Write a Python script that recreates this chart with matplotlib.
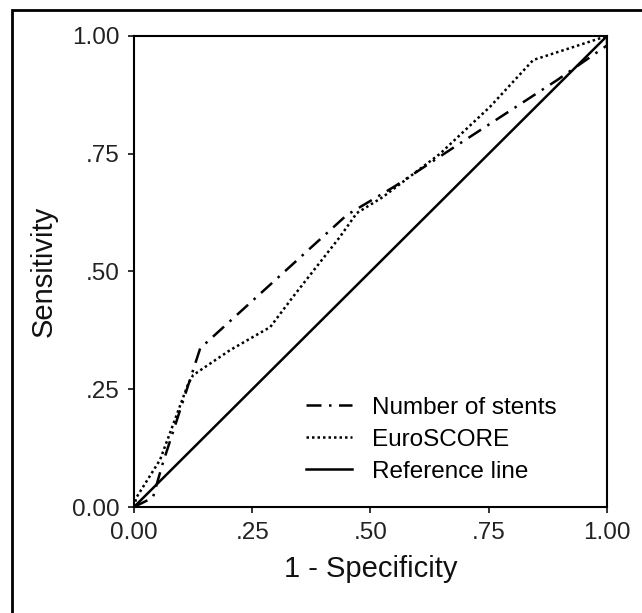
import matplotlib
matplotlib.use("Agg")
import matplotlib.pyplot as plt
from matplotlib.patches import Rectangle

plt.rcParams['font.family'] = ['Liberation Sans', 'DejaVu Sans']

# ROC curve points
stents_x = [0.0, 0.04, 0.06, 0.14, 0.45, 0.55, 0.683, 0.894, 1.0, 1.0]
stents_y = [0.0, 0.02, 0.09, 0.337, 0.62, 0.68, 0.768, 0.906, 0.98, 1.0]

euro_x = [0.0, 0.005, 0.055, 0.114, 0.125, 0.203, 0.288, 0.336, 0.435, 0.471, 0.526, 0.647, 0.753, 0.844, 0.93, 1.0]
euro_y = [0.0, 0.02, 0.10, 0.26, 0.28, 0.333, 0.382, 0.446, 0.573, 0.624, 0.658, 0.75, 0.85, 0.949, 0.977, 1.0]

ref_x = [0.0, 1.0]
ref_y = [0.0, 1.0]

ticks = [0.0, 0.25, 0.5, 0.75, 1.0]
tick_labels = ['0.00', '.25', '.50', '.75', '1.00']

fig = plt.figure(figsize=(6.42, 6.13), dpi=100)
ax = fig.add_axes([0.2087, 0.1729, 0.7368, 0.7684])

ax.plot(stents_x, stents_y, color='black', lw=1.8, linestyle=(0, (6, 3, 1, 3)), label='Number of stents')
ax.plot(euro_x, euro_y, color='black', lw=1.8, linestyle=(0, (1, 1.2)), label='EuroSCORE')
ax.plot(ref_x, ref_y, color='black', lw=1.8, label='Reference line')

ax.set_xlim(0, 1)
ax.set_ylim(0, 1)
ax.set_xticks(ticks)
ax.set_xticklabels(tick_labels)
ax.set_yticks(ticks)
ax.set_yticklabels(tick_labels)
ax.tick_params(direction='out', length=4.5, width=1.3, labelsize=17.5, colors='#222222', pad=6)
for s in ax.spines.values():
    s.set_linewidth(1.5)

ax.set_xlabel('1 - Specificity', fontsize=21, color='#111111', labelpad=8)
ax.set_ylabel('Sensitivity', fontsize=21, color='#111111', labelpad=10)

ax.legend(loc='upper left', bbox_to_anchor=(0.364, 0.234), frameon=False, fontsize=17.5,
          borderpad=0, borderaxespad=0, handlelength=1.9, handletextpad=0.8, labelspacing=0.41)

# outer frame around the figure
fig.patches.append(Rectangle((12 / 642, -0.05), 1.1, 1 - 10 / 613 + 0.05, transform=fig.transFigure,
                             fill=False, edgecolor='black', lw=2))

fig.savefig('out.png', dpi=100)
